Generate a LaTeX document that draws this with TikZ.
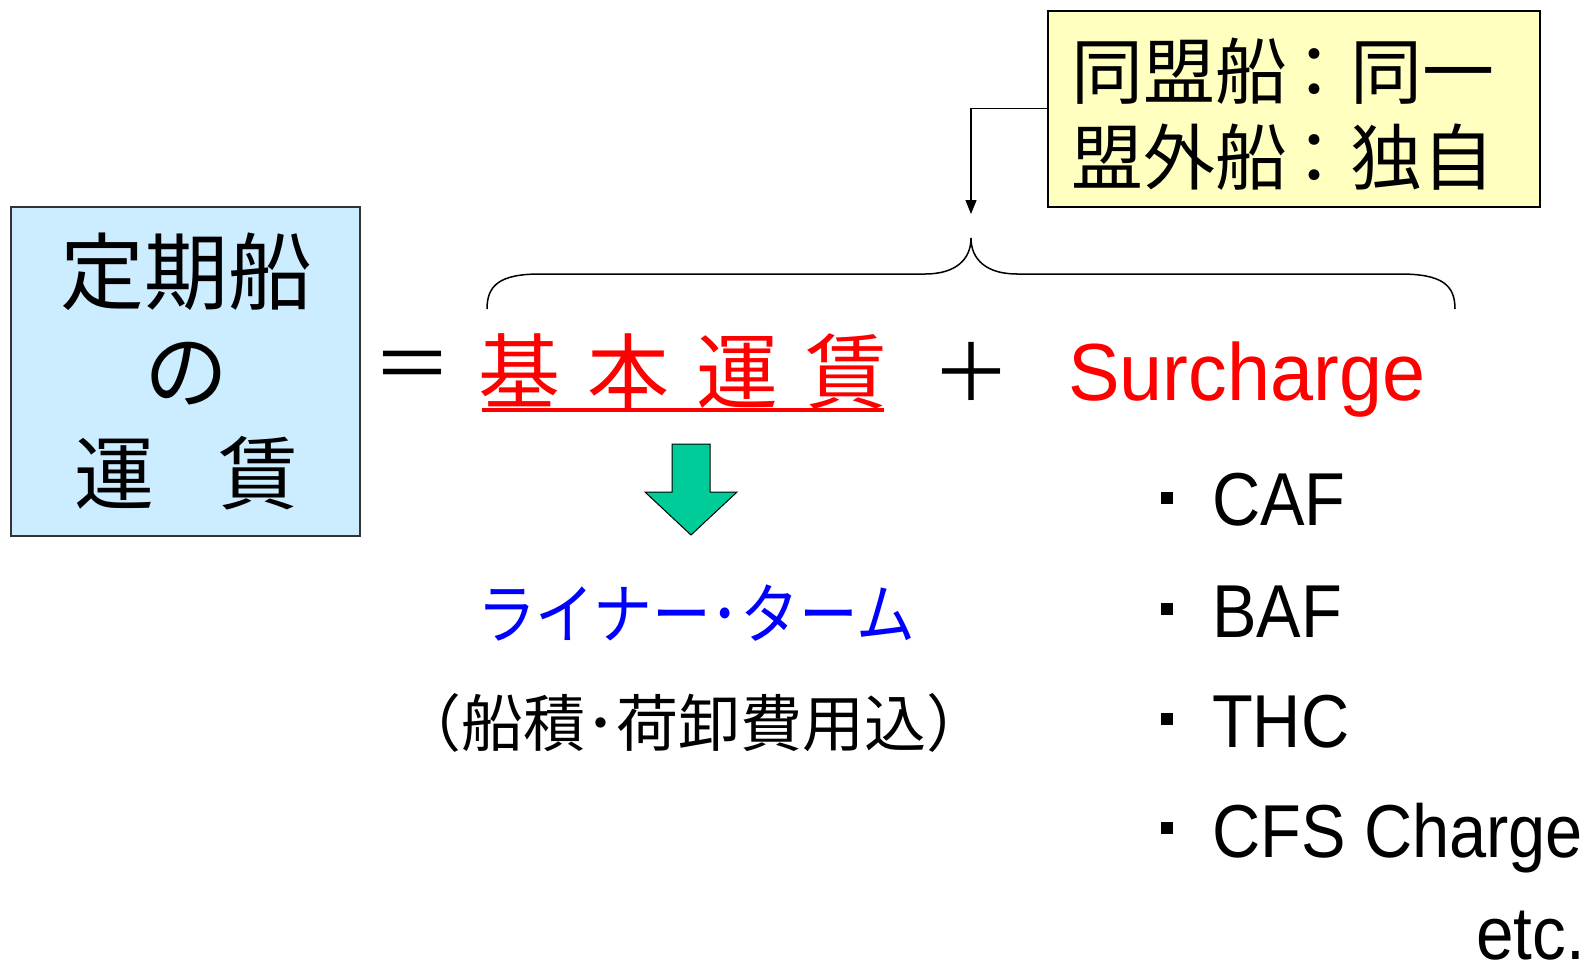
\documentclass[tikz,border=0pt]{standalone}
\usepackage{fontspec}
\usepackage{graphicx}
\setmainfont{Noto Sans CJK JP}
\newfontfamily\latinfont{Liberation Sans}
\usetikzlibrary{arrows.meta}
\definecolor{boxblue}{HTML}{CCECFF}
\definecolor{boxyellow}{HTML}{FFFFC0}
\definecolor{arrgreen}{HTML}{00CC99}
\begin{document}
\begin{tikzpicture}[x=1pt,y=-1pt,
  lbl/.style={inner sep=0pt, anchor=center},
  sq/.style={fill=black, inner sep=0pt, minimum width=12pt, minimum height=12pt},
  item/.style={inner sep=0pt, anchor=base west},
]
\useasboundingbox (0,0) rectangle (1590,962);
% left box
\node[draw=black!80, line width=1.5pt, fill=boxblue, minimum width=349pt, minimum height=329pt, inner sep=0pt, anchor=north west] (lbox) at (10,206) {};
\node[lbl] (t1) at (186,272) {\fontsize{84}{84}\selectfont 定期船};
\node[lbl] (t2) at (186,374) {\fontsize{84}{84}\selectfont の};
\node[lbl] (t3) at (186,473) {\fontsize{80}{80}\selectfont 運\hspace{64pt}賃};
% equation
\node[lbl] (eq) at (412,372) {\fontsize{80}{80}\selectfont ＝};
\node[lbl, text=red] (kihon) at (683,371) {\fontsize{82}{82}\selectfont 基\hspace{0.33em}本\hspace{0.33em}運\hspace{0.33em}賃};
\draw[red, line width=4pt] (482,410) -- (884,410);
\node[lbl] (plus) at (971,372) {\fontsize{80}{80}\selectfont ＋};
\node[item, text=red] (sur) at (1068,400) {\latinfont\fontsize{81}{81}\selectfont\scalebox{0.955}[1]{Surcharge}};
% brace
\coordinate (btip) at (971,238);
\draw[line width=1.5pt] (487,309) .. controls (487,285) and (500,274) .. (540,274) -- (925,274) .. controls (955,274) and (971,260) .. (btip)
  .. controls (971,260) and (987,274) .. (1017,274) -- (1400,274) .. controls (1442,274) and (1455,285) .. (1455,309);
% yellow box
\node[draw=black, line width=1.5pt, fill=boxyellow, minimum width=492pt, minimum height=196pt, inner sep=0pt, anchor=north west] (ybox) at (1047,10) {};
\node[lbl, anchor=west] (y1) at (1071,71) {\fontsize{72}{72}\selectfont 同盟船\hspace{-0.12em}：同一};
\node[lbl, anchor=west] (y2) at (1071,157) {\fontsize{72}{72}\selectfont 盟外船\hspace{-0.12em}：独自};
\coordinate (atip) at (971,214);
\draw[line width=1.2pt, -{Triangle[length=14pt, width=11pt]}] (ybox.west) -| (atip);
% green arrow
\draw[fill=arrgreen, draw=black, line width=1pt] (672,444) -- (710,444) -- (710,492) -- (737,492) -- (691,535) -- (645,492) -- (672,492) -- cycle;
% liner term
\node[lbl, text=blue] (liner) at (696,613) {\fontsize{66}{66}\selectfont\scalebox{0.89}[1]{ライナー･ターム}};
\node[lbl] (paren) at (694,723) {\fontsize{62}{62}\selectfont （船積･荷卸費用込）};
% surcharge list
\node[sq] (b1) at (1167,498) {};
\node[sq] (b2) at (1167,609) {};
\node[sq] (b3) at (1167,719) {};
\node[sq] (b4) at (1167,828) {};
\node[item] (caf) at (1212,525) {\latinfont\fontsize{75}{75}\selectfont\scalebox{0.89}[1]{CAF}};
\node[item] (baf) at (1212,637) {\latinfont\fontsize{75}{75}\selectfont\scalebox{0.89}[1]{BAF}};
\node[item] (thc) at (1212,747) {\latinfont\fontsize{75}{75}\selectfont\scalebox{0.89}[1]{THC}};
\node[item] (cfs) at (1212,857) {\latinfont\fontsize{75}{75}\selectfont\scalebox{0.89}[1]{CFS Charge}};
\node[item, anchor=base east] (etc) at (1585,959) {\latinfont\fontsize{75}{75}\selectfont\scalebox{0.9}[1]{etc.}};
\end{tikzpicture}
\end{document}
